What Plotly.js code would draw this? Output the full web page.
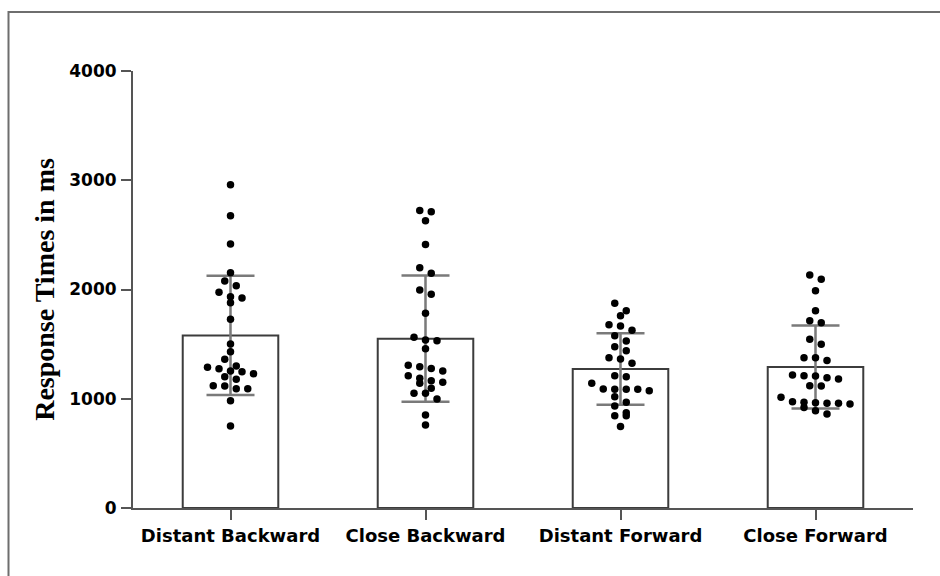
<!DOCTYPE html>
<html>
<head>
<meta charset="utf-8">
<script src="https://cdn.plot.ly/plotly-3.0.1.min.js"></script>
<style>html,body{margin:0;padding:0;background:#fff;}#chart{width:940px;height:576px;}</style>
</head>
<body>
<div id="chart"></div>
<script>
// ---- Data ----
const categories = ["Distant Backward", "Close Backward", "Distant Forward", "Close Forward"];
const means = [1580, 1550, 1273, 1290];
const sds = [546, 578, 327, 380];

const distantBackward = [2959, 2676, 2416, 2154, 2078, 2035, 1974, 1934, 1922, 1879, 1727, 1501, 1431, 1361,
  1300, 1288, 1275, 1254, 1248, 1229, 1202, 1178, 1120, 1117, 1092, 1092, 982, 751];
const closeBackward = [2722, 2712, 2630, 2413, 2200, 2148, 1995, 1956, 1782, 1562, 1538, 1532, 1458, 1306,
  1294, 1278, 1254, 1211, 1187, 1165, 1151, 1142, 1096, 1050, 1050, 998, 851, 760];
const distantForward = [1874, 1806, 1760, 1678, 1666, 1626, 1577, 1529, 1477, 1440, 1376, 1364, 1324, 1211,
  1202, 1142, 1089, 1086, 1086, 1086, 1074, 1019, 967, 934, 872, 845, 845, 745];
const closeForward = [2133, 2093, 1989, 1806, 1715, 1696, 1544, 1498, 1376, 1376, 1349, 1217, 1211, 1208,
  1193, 1181, 1120, 1117, 1013, 973, 967, 964, 958, 958, 952, 921, 891, 860];
const groups = [distantBackward, closeBackward, distantForward, closeForward];

const yTicks = [0, 1000, 2000, 3000, 4000];

// ---- Layout geometry ----
const W = 940, H = 576;
const M = {l: 133, r: 27, t: 71, b: 68};
const plotW = W - M.l - M.r, plotH = H - M.t - M.b;
const yMax = 4000;
const xRange = [-0.5, categories.length - 0.5];
const pxPerCat = plotW / (xRange[1] - xRange[0]);
const pxPerVal = plotH / yMax;
const markerPx = 7.5, slotPx = 11.5;

// simple row-based beeswarm (computed, not typed)
function swarm(vals, center) {
  const sorted = vals.slice().sort((a, b) => b - a);
  const xs = [], ys = [];
  const thr = markerPx / pxPerVal;
  let i = 0;
  while (i < sorted.length) {
    const start = sorted[i];
    const row = [];
    while (i < sorted.length && start - sorted[i] < thr) { row.push(sorted[i]); i++; }
    const n = row.length;
    row.forEach((v, k) => {
      xs.push(center + ((k - (n - 1) / 2) * slotPx) / pxPerCat);
      ys.push(v);
    });
  }
  return {xs, ys};
}

const catIdx = categories.map((c, i) => i);

const barTrace = {
  type: "bar",
  x: catIdx,
  y: means,
  width: 0.49,
  marker: {color: "#ffffff", line: {color: "#3c3c3c", width: 2}},
  error_y: {type: "data", array: sds, visible: true, color: "#7a7a7a", thickness: 2.5, width: 24},
  hoverinfo: "skip",
  showlegend: false
};

const dotX = [], dotY = [];
groups.forEach((g, i) => {
  const s = swarm(g, i);
  dotX.push(...s.xs);
  dotY.push(...s.ys);
});

const dotTrace = {
  type: "scatter",
  mode: "markers",
  x: dotX,
  y: dotY,
  marker: {color: "#000000", size: markerPx},
  showlegend: false,
  cliponaxis: false
};

const toPX = px => (px - M.l) / plotW;
const toPY = py => (H - M.b - py) / plotH;

const layout = {
  width: W, height: H,
  margin: M,
  paper_bgcolor: "#ffffff",
  plot_bgcolor: "#ffffff",
  showlegend: false,
  bargap: 0,
  xaxis: {
    range: xRange,
    tickvals: catIdx,
    ticktext: categories,
    showgrid: false, zeroline: false,
    showline: true, linecolor: "#555555", linewidth: 2,
    ticks: "outside", ticklen: 10, tickwidth: 2, tickcolor: "#555555",
    tickfont: {family: "DejaVu Sans", size: 18, color: "#000000", weight: "bold"},
    fixedrange: true
  },
  yaxis: {
    range: [0, yMax],
    tickvals: yTicks,
    ticktext: yTicks.map(String),
    showgrid: false, zeroline: false,
    showline: true, linecolor: "#555555", linewidth: 2,
    ticks: "outside", ticklen: 10, tickwidth: 2, tickcolor: "#555555",
    ticklabelstandoff: 1,
    tickfont: {family: "DejaVu Sans", size: 17, color: "#000000", weight: "bold"},
    title: {text: "<b>Response Times in ms</b>", font: {family: "Liberation Serif", size: 28, color: "#000000"}, standoff: 6},
    fixedrange: true
  },
  shapes: [
    {type: "rect", xref: "paper", yref: "paper",
     x0: toPX(8.5), x1: toPX(1000), y0: toPY(700), y1: toPY(12),
     line: {color: "#6e6e6e", width: 2}, fillcolor: "rgba(0,0,0,0)", layer: "below"}
  ]
};

Plotly.newPlot("chart", [barTrace, dotTrace], layout, {staticPlot: true, displayModeBar: false});
</script>
</body>
</html>
